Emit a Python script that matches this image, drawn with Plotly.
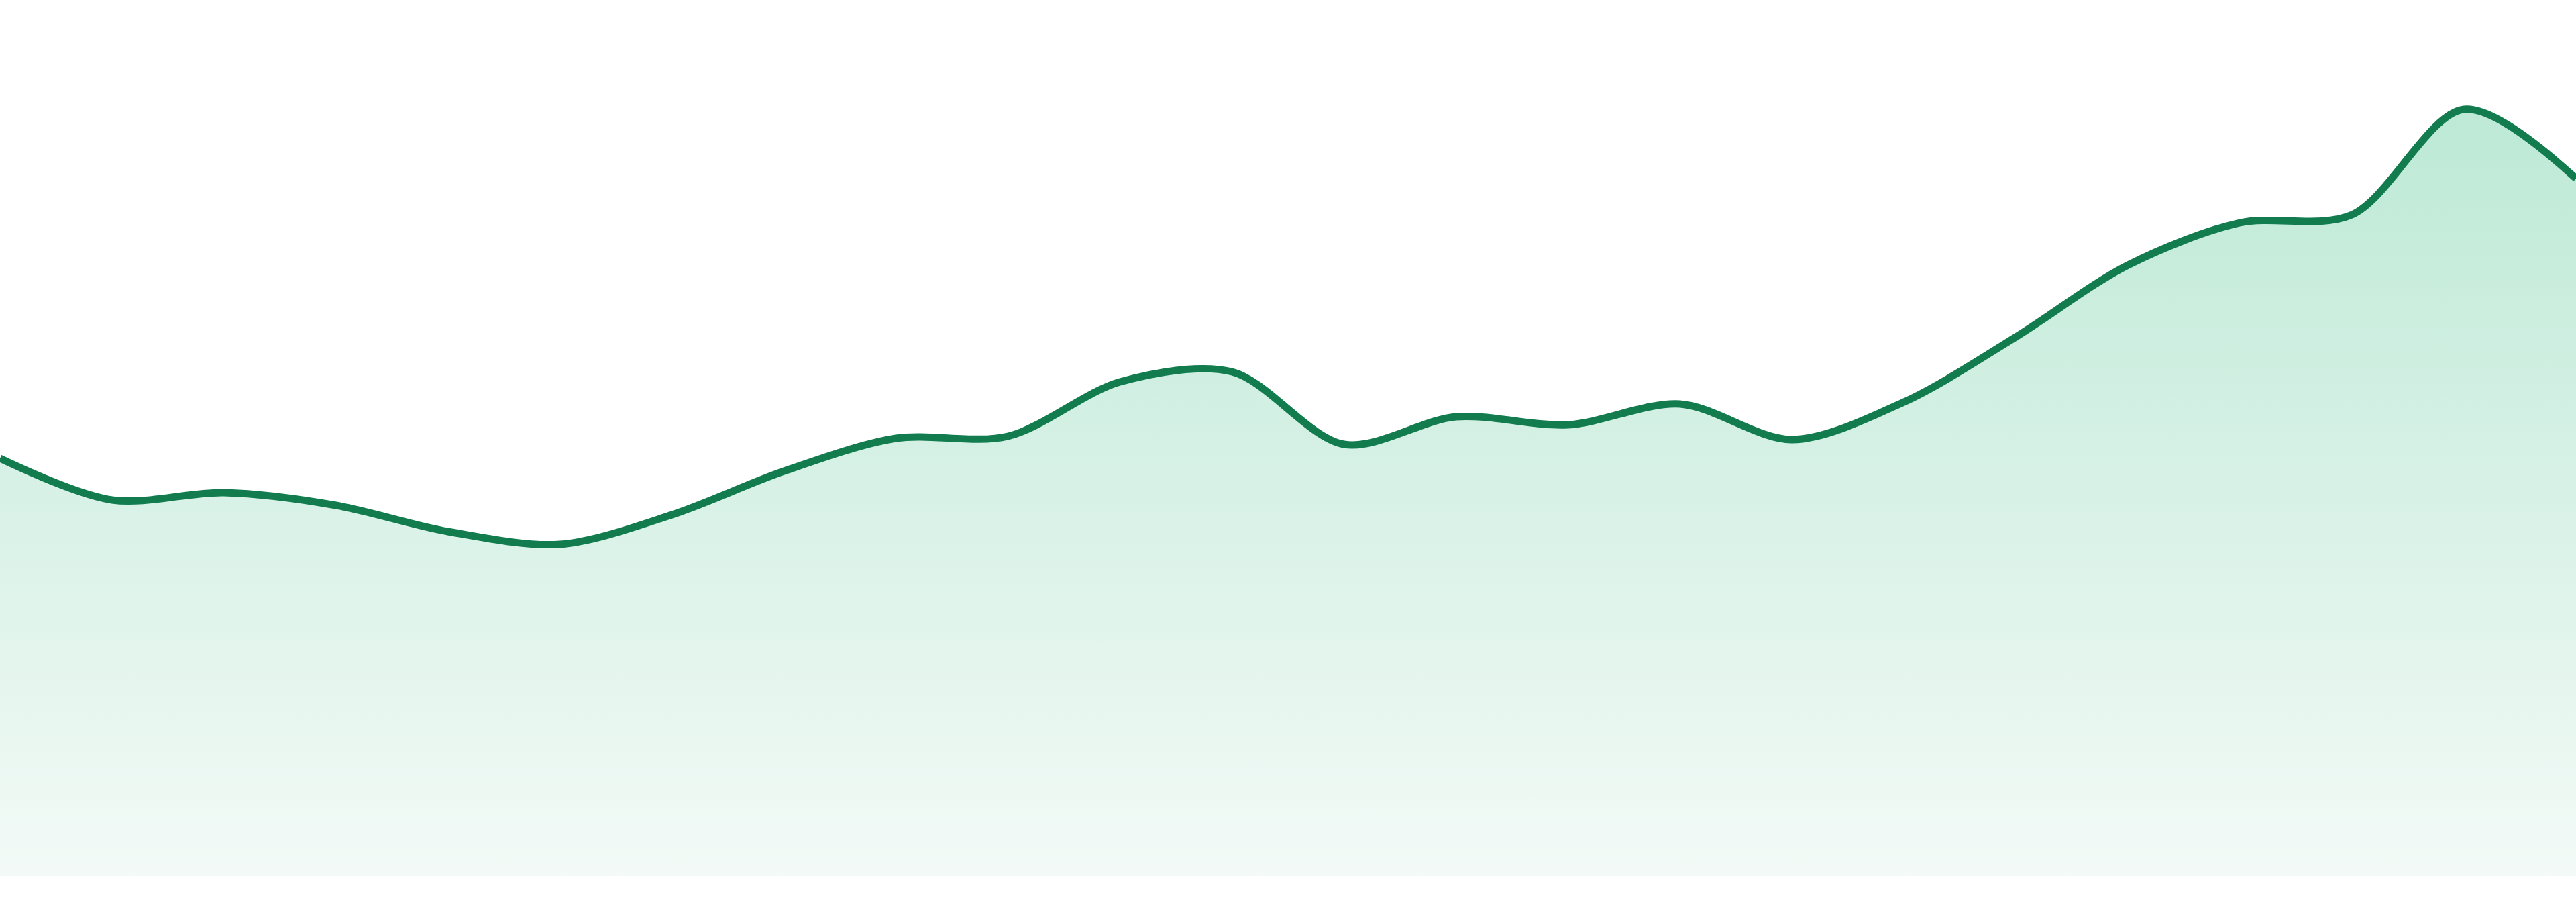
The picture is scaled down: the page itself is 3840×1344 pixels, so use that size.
import plotly.graph_objects as go

# x positions (evenly spaced periods)
periods = list(range(24))
# series values
values = [62.2, 56.0, 57.1, 55.2, 51.3, 49.4, 53.8, 60.3, 65.2, 65.5, 73.6, 75.1,
          64.3, 68.4, 67.2, 70.3, 65.0, 70.6, 80.3, 91.0, 97.3, 98.5, 114.2, 103.9]
baseline = [0] * len(periods)
y_floor = -3.9
y_top = 130.5

LINE = "#127c4f"

fig = go.Figure()
# invisible zero baseline that the area fills down to
fig.add_trace(go.Scatter(
    x=periods, y=baseline, mode="lines",
    line=dict(width=0, color="rgba(0,0,0,0)"),
    hoverinfo="skip",
))
fig.add_trace(go.Scatter(
    x=periods, y=values,
    mode="lines",
    line=dict(color=LINE, width=11, shape="spline", smoothing=0.9),
    fill="tonexty",
    fillgradient=dict(
        type="vertical",
        colorscale=[[0.0, "rgb(243,250,247)"], [1.0, "rgb(189,233,214)"]],
        start=0, stop=max(values),
    ),
    hoverinfo="skip",
))

# keep the strip below the zero line white
fig.add_shape(type="rect", xref="paper", yref="y", x0=0, x1=1, y0=y_floor, y1=0,
              fillcolor="white", line=dict(width=0), layer="above")

fig.update_layout(
    width=3840, height=1344,
    margin=dict(l=0, r=0, t=0, b=0, pad=0),
    paper_bgcolor="white", plot_bgcolor="white",
    showlegend=False,
    xaxis=dict(range=[0, 23], visible=False, showgrid=False, zeroline=False, fixedrange=True),
    yaxis=dict(range=[y_floor, y_top], visible=False, showgrid=False, zeroline=False, fixedrange=True),
)

fig.write_html(
    "out.html",
    config={"displayModeBar": False},
    post_script="document.body.style.margin='0px';",
)
